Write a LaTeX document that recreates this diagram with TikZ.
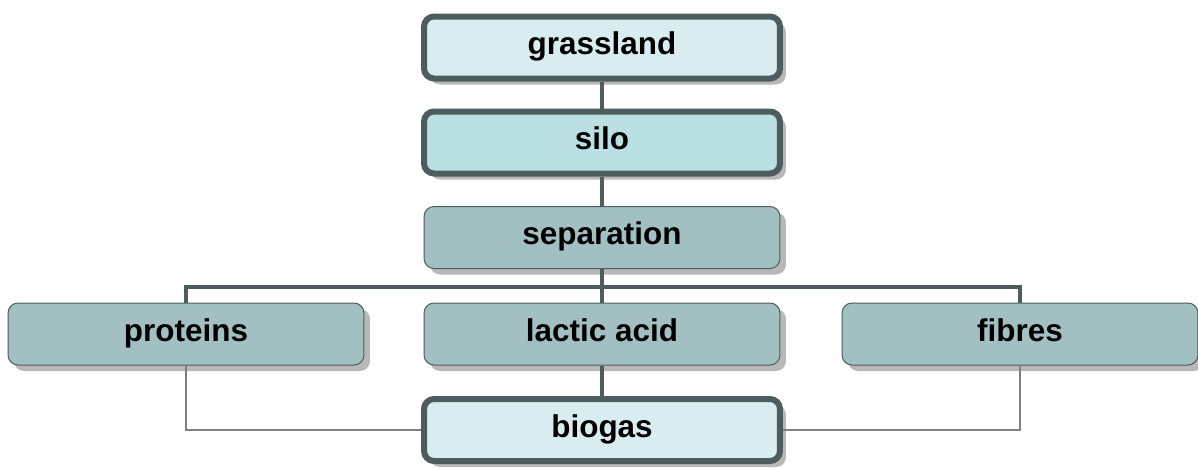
\documentclass[tikz,border=0pt]{standalone}
\usepackage{fontspec}
\setmainfont{Liberation Sans}
\usetikzlibrary{shadows}

\definecolor{boxline}{HTML}{4D5D5D}
\definecolor{palefill}{HTML}{D9EDF0}
\definecolor{silofill}{HTML}{BBE0E3}
\definecolor{midfill}{HTML}{A2C0C2}
\definecolor{thinline}{HTML}{808080}

\tikzset{
  box/.style={rectangle, rounded corners=0.2cm, minimum width=7.12cm, minimum height=1.24cm,
    fill=midfill, draw=boxline, line width=0.02cm, font=\fontsize{17.9}{20}\selectfont\bfseries,
    text height=0.8em, text depth=0pt,
    drop shadow={shadow xshift=0.12cm, shadow yshift=-0.12cm, fill=black!28, opacity=1}},
  thickbox/.style={box, line width=0.12cm},
  link/.style={draw=boxline, line width=0.09cm},
  sidelink/.style={draw=thinline, line width=0.03cm}
}

\begin{document}
\begin{tikzpicture}[x=0.02cm, y=-0.02cm]
\useasboundingbox (0,0) rectangle (1198,468);

% top chain
\node[thickbox, fill=palefill] (grassland) at (602,47.5) {grassland};
\node[thickbox, fill=silofill] (silo) at (602,142.5) {silo};
\node[box] (separation) at (602,237.5) {separation};

% products
\foreach \x/\name/\txt in {186/proteins/proteins, 602/lactic/lactic acid, 1020/fibres/fibres} {
\node[box] (\name) at (\x,334) {\txt};
}
\node[thickbox, fill=palefill] (biogas) at (602,430) {biogas};

\coordinate (bar) at (602,287);
\draw[link] (grassland) -- (silo);
\draw[link] (silo) -- (separation);
\draw[link] (separation) -- (bar);
\draw[link] (proteins.north) |- (bar) -| (fibres.north);
\draw[link] (bar) -- (lactic);
\draw[link] (lactic) -- (biogas);

\draw[sidelink] (proteins.south) |- (biogas.west);
\draw[sidelink] (fibres.south) |- (biogas.east);
\end{tikzpicture}
\end{document}
